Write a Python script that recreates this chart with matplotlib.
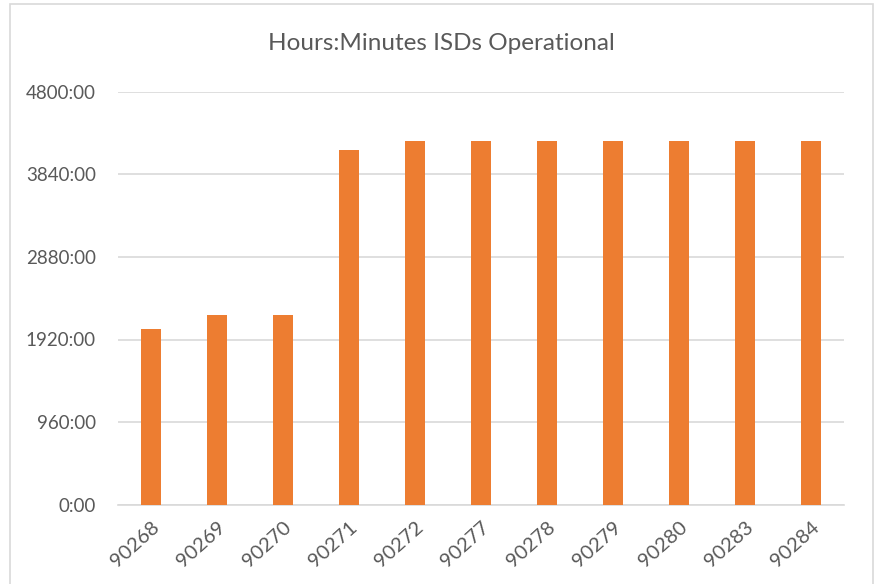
import matplotlib
matplotlib.use("Agg")
import matplotlib.pyplot as plt
from matplotlib.ticker import FuncFormatter, MultipleLocator
from matplotlib.patches import Rectangle

categories = ["90268", "90269", "90270", "90271", "90272", "90277",
              "90278", "90279", "90280", "90283", "90284"]
hours = [2040, 2208, 2208, 4128, 4224, 4224, 4224, 4224, 4224, 4224, 4224]
title = "Hours:Minutes ISDs Operational"

W, H = 874, 584
fig = plt.figure(figsize=(W / 100, H / 100), dpi=100)
fig.patch.set_facecolor("white")
fig.patches.append(Rectangle((10 / W, -0.05), (873 - 10) / W, 1.05 - 4 / H,
                             transform=fig.transFigure, fill=False,
                             edgecolor="#d9d9d9", linewidth=1.2))

left, right, top, bottom = 118, 844, 91.7, 504.7
ax = fig.add_axes([left / W, 1 - bottom / H, (right - left) / W, (bottom - top) / H])

font = "Lato"
txt = "#595959"
x = list(range(len(categories)))
ax.bar(x, hours, width=0.315, color="#ED7D31", zorder=3)
ax.set_xlim(-0.5, len(categories) - 0.5)
ax.set_ylim(0, 4800)
ax.yaxis.set_major_locator(MultipleLocator(960))

def fmt(v, pos):
    h = int(v)
    m = int(round((v - h) * 60))
    return f"{h}:{m:02d}"

ax.yaxis.set_major_formatter(FuncFormatter(fmt))
ax.grid(axis="y", color="#d9d9d9", linewidth=1.2, zorder=0)
for s in ["top", "right", "left"]:
    ax.spines[s].set_visible(False)
ax.spines["bottom"].set_color("#d9d9d9")
ax.spines["bottom"].set_linewidth(1.2)
ax.tick_params(axis="both", length=0, colors=txt, labelsize=13.5)
ax.tick_params(axis="y", pad=16)
ax.set_xticks(x)
ax.set_xticklabels(categories, rotation=42, ha="right", rotation_mode="anchor",
                   fontfamily=font, color=txt, fontsize=14.5)
ax.tick_params(axis="x", pad=10)
for lab in ax.get_yticklabels():
    lab.set_fontfamily(font)

fig.text(441.5 / W, 1 - 43 / H, title, ha="center", va="center",
         fontsize=17.5, color=txt, fontfamily=font)

fig.savefig("out.png", dpi=100, facecolor="white")
